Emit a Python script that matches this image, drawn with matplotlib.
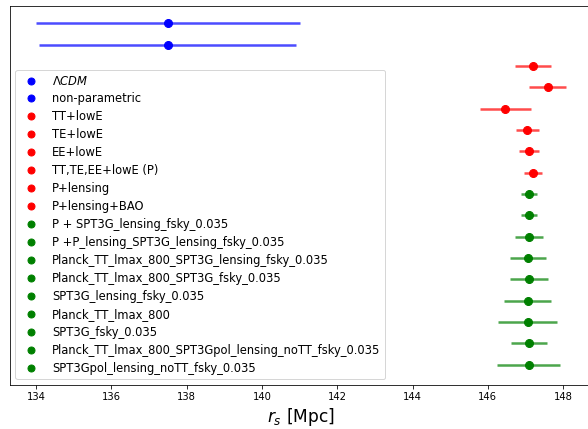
import matplotlib

matplotlib.use("Agg")

import numpy as np
from matplotlib import pyplot as plt
from matplotlib.lines import Line2D

# sound horizon r_s [Mpc] with 1-sigma errors, grouped by colour
labels = [
    r"$\Lambda CDM$",
    "non-parametric",
    "TT+lowE",
    "TE+lowE",
    "EE+lowE",
    "TT,TE,EE+lowE (P)",
    "P+lensing",
    "P+lensing+BAO",
    "P + SPT3G_lensing_fsky_0.035",
    "P +P_lensing_SPT3G_lensing_fsky_0.035",
    "Planck_TT_lmax_800_SPT3G_lensing_fsky_0.035",
    "Planck_TT_lmax_800_SPT3G_fsky_0.035",
    "SPT3G_lensing_fsky_0.035",
    "Planck_TT_lmax_800",
    "SPT3G_fsky_0.035",
    "Planck_TT_lmax_800_SPT3Gpol_lensing_noTT_fsky_0.035",
    "SPT3Gpol_lensing_noTT_fsky_0.035",
]
rs = [137.50, 137.50,
      147.21, 147.59, 146.46, 147.05, 147.09, 147.21,
      147.09, 147.09, 147.09, 147.06, 147.09, 147.06, 147.06, 147.09, 147.09]
rs_err = [3.50, 3.41,
          0.48, 0.49, 0.68, 0.30, 0.26, 0.24,
          0.22, 0.22, 0.38, 0.48, 0.50, 0.62, 0.79, 0.48, 0.84]
colors = ["blue"] * 2 + ["red"] * 6 + ["green"] * 9

dpi = 72
fig = plt.figure(figsize=(588 / dpi, 429 / dpi), dpi=dpi)
ax = fig.add_axes([9.5 / 588, 44 / 429, 583 / 588, 379 / 429])

n = len(labels)
ypos = np.arange(n)[::-1]
handles = []
for y, x, err, c, lab in zip(ypos, rs, rs_err, colors, labels):
    ax.errorbar(x, y, xerr=err, fmt="o", color=c, ms=8,
                elinewidth=2.5, ecolor=c, capsize=0, zorder=3)
    ax.lines[-1].set_zorder(4)
    handles.append(Line2D([], [], ls="none", marker="o", ms=7,
                          color=c, label=lab))

# make the error lines slightly translucent
for coll in ax.collections:
    coll.set_alpha(0.7)

ax.set_xlim(133.295, 148.78)
ax.set_ylim(-0.95, n - 1 + 0.81)
ax.set_yticks([])
ax.set_xticks(np.arange(134, 149, 2))
ax.tick_params(axis="x", labelsize=10)
ax.set_xlabel(r"$r_s$ [Mpc]", fontsize=17)

ax.legend(handles=handles, loc="lower left", fontsize=11.5,
          labelspacing=0.43, framealpha=0.8)

fig.savefig("out.png", dpi=dpi)
